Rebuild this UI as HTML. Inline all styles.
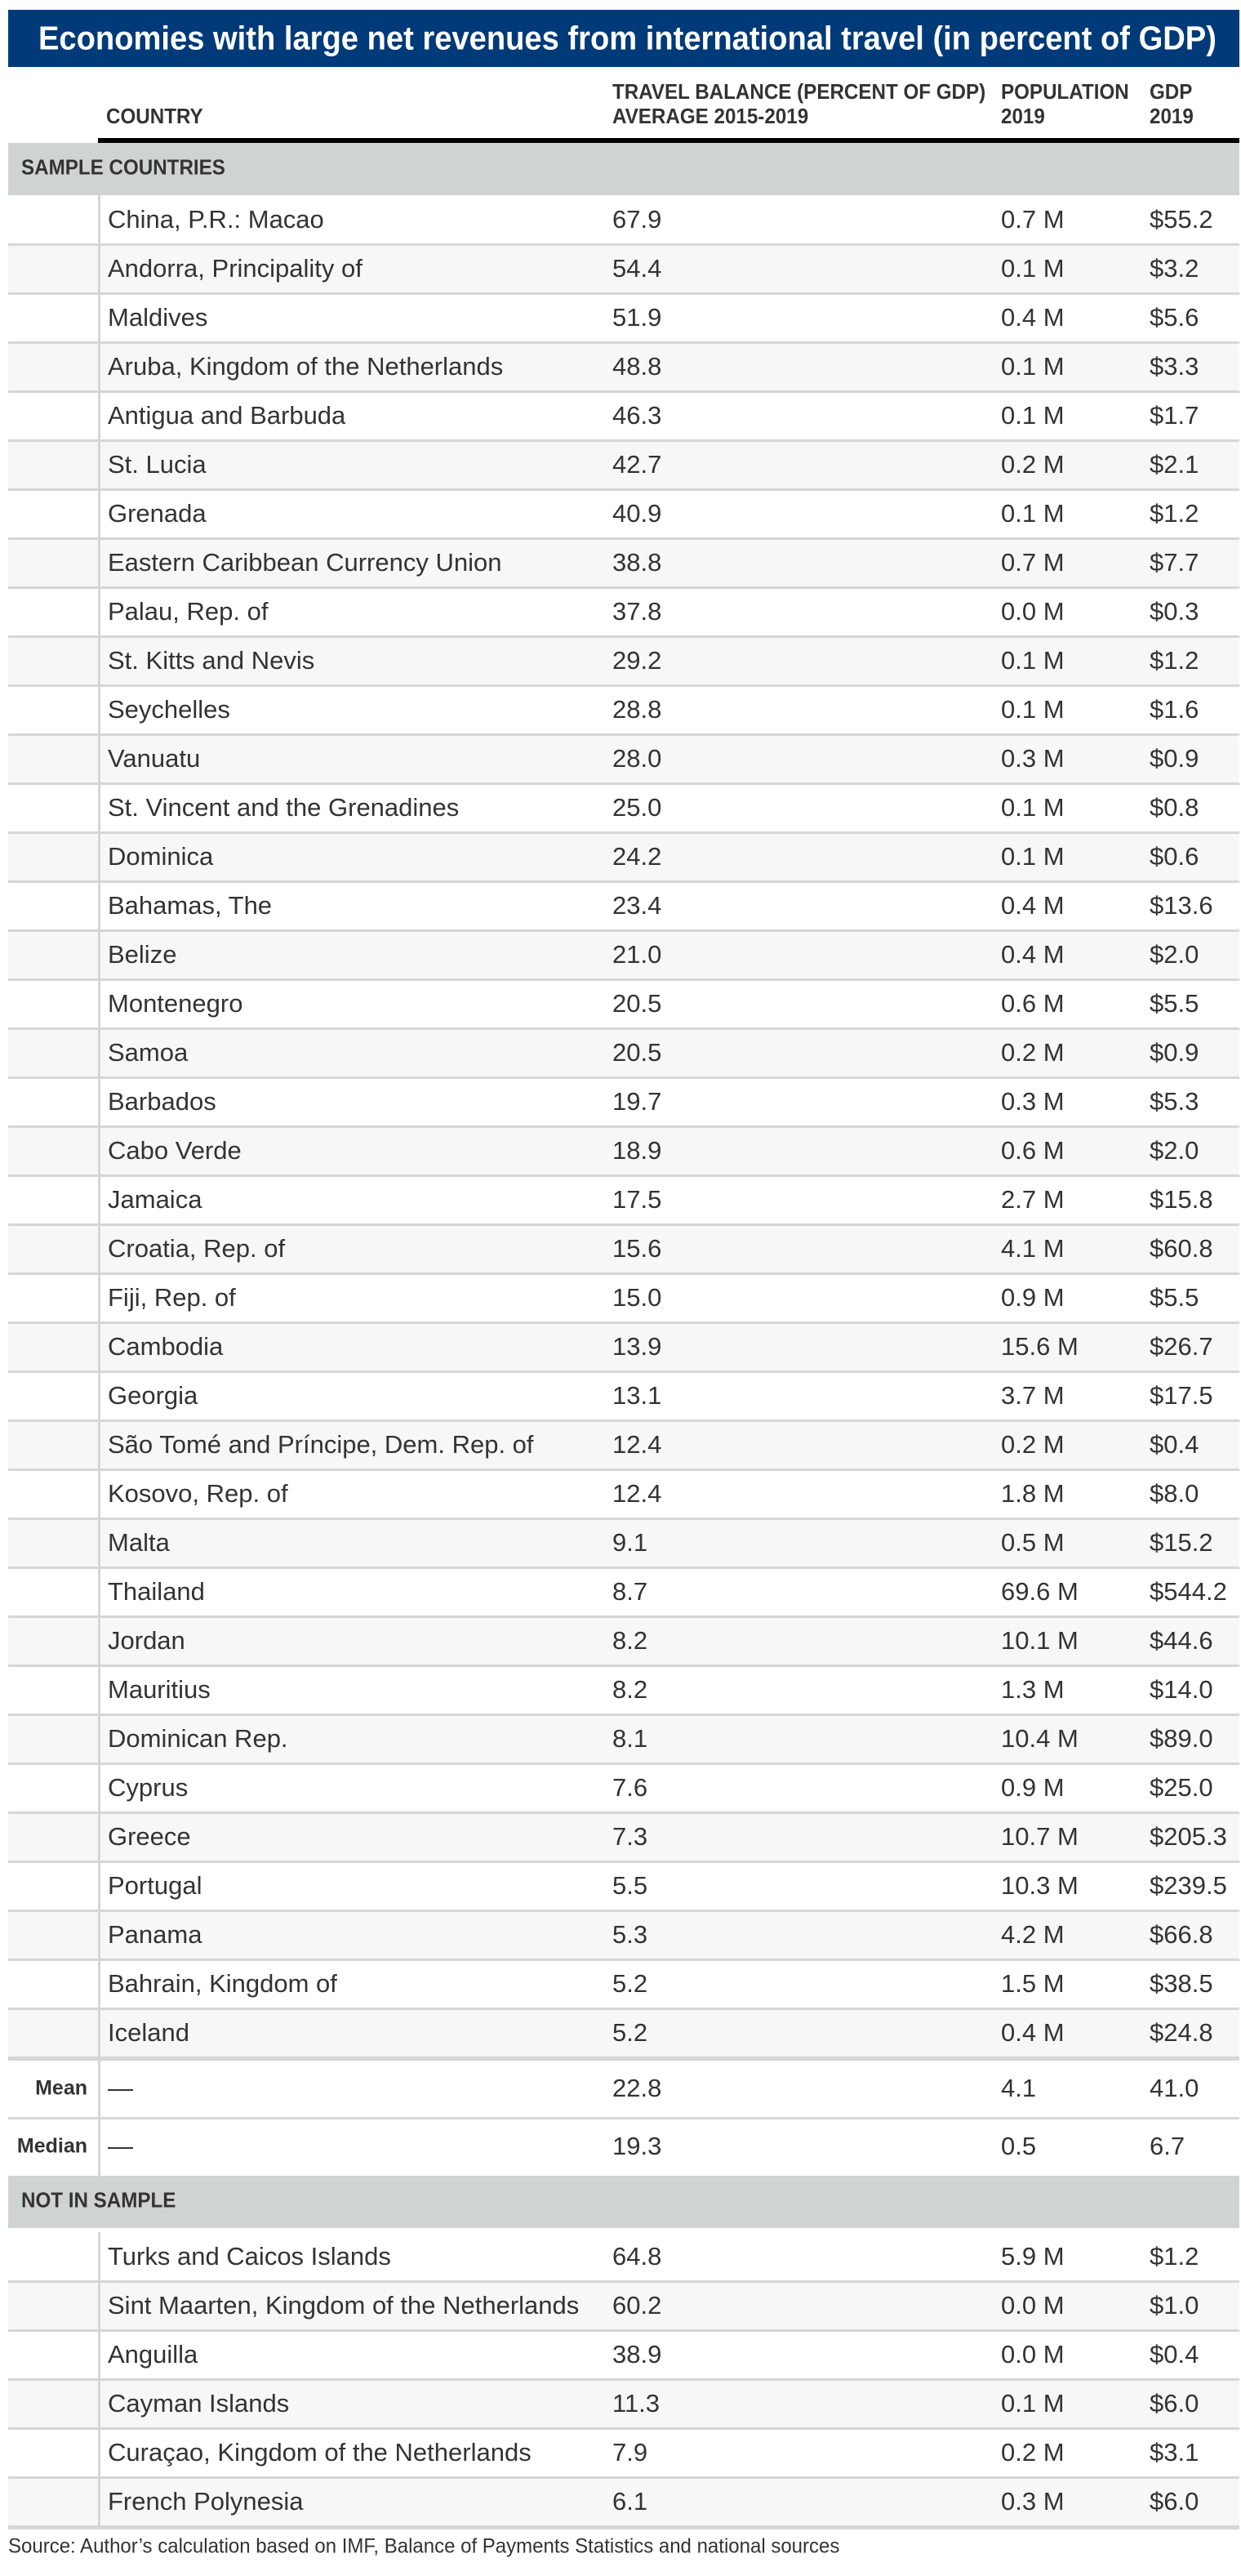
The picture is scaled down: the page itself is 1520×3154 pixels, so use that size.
<!DOCTYPE html>
<html><head><meta charset="utf-8">
<style>
body{margin:0;width:1520px;height:3154px;background:#fff;position:relative;overflow:hidden;font-family:"Liberation Sans",Arial,sans-serif;color:#333;}
.a{position:absolute;}
.t{position:absolute;white-space:nowrap;transform-origin:left center;}
.hd{font-weight:bold;font-size:26px;color:#333;transform:scaleX(0.93);}
.cell{font-size:31px;color:#333;transform:translateY(-50%);}
</style></head>
<body>
<div class="a" style="left:10px;top:12px;width:1508px;height:70px;background:#003a78;"></div>
<div class="t" style="left:47px;top:47px;transform:translateY(-50%) scaleX(0.93);color:#fff;font-weight:bold;font-size:41px;">Economies with large net revenues from international travel (in percent of GDP)</div>
<div class="t hd" style="left:130px;top:127px;">COUNTRY</div>
<div class="t hd" style="left:750px;top:97px;line-height:30px;">TRAVEL BALANCE (PERCENT OF GDP)<br>AVERAGE 2015-2019</div>
<div class="t hd" style="left:1226px;top:97px;line-height:30px;">POPULATION<br>2019</div>
<div class="t hd" style="left:1408px;top:97px;line-height:30px;">GDP<br>2019</div>
<div class="a" style="left:120px;top:169px;width:1398px;height:6px;background:#000;"></div>
<div id="root"></div>
<div class="t" style="left:10px;top:3118px;transform:translateY(-50%) scaleX(0.96);font-size:25px;color:#333;">Source: Author’s calculation based on IMF, Balance of Payments Statistics and national sources</div>
<script>
const sampleCountries=["China, P.R.: Macao","Andorra, Principality of","Maldives","Aruba, Kingdom of the Netherlands","Antigua and Barbuda","St. Lucia","Grenada","Eastern Caribbean Currency Union","Palau, Rep. of","St. Kitts and Nevis","Seychelles","Vanuatu","St. Vincent and the Grenadines","Dominica","Bahamas, The","Belize","Montenegro","Samoa","Barbados","Cabo Verde","Jamaica","Croatia, Rep. of","Fiji, Rep. of","Cambodia","Georgia","São Tomé and Príncipe, Dem. Rep. of","Kosovo, Rep. of","Malta","Thailand","Jordan","Mauritius","Dominican Rep.","Cyprus","Greece","Portugal","Panama","Bahrain, Kingdom of","Iceland"];
const sampleTravel=["67.9","54.4","51.9","48.8","46.3","42.7","40.9","38.8","37.8","29.2","28.8","28.0","25.0","24.2","23.4","21.0","20.5","20.5","19.7","18.9","17.5","15.6","15.0","13.9","13.1","12.4","12.4","9.1","8.7","8.2","8.2","8.1","7.6","7.3","5.5","5.3","5.2","5.2"];
const samplePop=["0.7 M","0.1 M","0.4 M","0.1 M","0.1 M","0.2 M","0.1 M","0.7 M","0.0 M","0.1 M","0.1 M","0.3 M","0.1 M","0.1 M","0.4 M","0.4 M","0.6 M","0.2 M","0.3 M","0.6 M","2.7 M","4.1 M","0.9 M","15.6 M","3.7 M","0.2 M","1.8 M","0.5 M","69.6 M","10.1 M","1.3 M","10.4 M","0.9 M","10.7 M","10.3 M","4.2 M","1.5 M","0.4 M"];
const sampleGdp=["$55.2","$3.2","$5.6","$3.3","$1.7","$2.1","$1.2","$7.7","$0.3","$1.2","$1.6","$0.9","$0.8","$0.6","$13.6","$2.0","$5.5","$0.9","$5.3","$2.0","$15.8","$60.8","$5.5","$26.7","$17.5","$0.4","$8.0","$15.2","$544.2","$44.6","$14.0","$89.0","$25.0","$205.3","$239.5","$66.8","$38.5","$24.8"];
const statLabels=["Mean","Median"];
const statTravel=["22.8","19.3"];
const statPop=["4.1","0.5"];
const statGdp=["41.0","6.7"];
const otherCountries=["Turks and Caicos Islands","Sint Maarten, Kingdom of the Netherlands","Anguilla","Cayman Islands","Curaçao, Kingdom of the Netherlands","French Polynesia"];
const otherTravel=["64.8","60.2","38.9","11.3","7.9","6.1"];
const otherPop=["5.9 M","0.0 M","0.0 M","0.1 M","0.2 M","0.3 M"];
const otherGdp=["$1.2","$1.0","$0.4","$6.0","$3.1","$6.0"];

const root=document.getElementById('root');
function box(l,t,w,h,bg,name){const d=document.createElement('div');d.className='a';d.style.cssText=`left:${l}px;top:${t}px;width:${w}px;height:${h}px;background:${bg};`;


root.appendChild(d);return d;}
function txt(l,cy,s,name,extra){const d=document.createElement('div');d.className='t cell';d.style.left=l+'px';d.style.top=cy+'px';if(extra)d.style.cssText+=extra;d.textContent=s;


root.appendChild(d);return d;}
const X=[132,750,1226,1408];const ROW=60;
function band(top,label,name){box(10,top,1508,64,'#d0d3d4',name);
txt(26,top+30,label,name+'-label','font-weight:bold;font-size:26px;transform:translateY(-50%) scaleX(0.93);');}
function rows(top,names,tr,pop,gdp,prefix){
  for(let i=0;i<names.length;i++){const y=top+i*ROW;
    box(10,y,1508,ROW,i%2?'#f7f7f7':'#ffffff',prefix+'-row-'+i);
    if(i>0)box(10,y-1,1508,3,'#d6d6d6',prefix+'-row-divider-'+i);
    txt(X[0],y+30,names[i],prefix+'-country-'+i);
    txt(X[1],y+30,tr[i],prefix+'-travel-'+i);
    txt(X[2],y+30,pop[i],prefix+'-population-'+i);
    txt(X[3],y+30,gdp[i],prefix+'-gdp-'+i);}
  const end=top+names.length*ROW;
  box(120,top,3,names.length*ROW,'#d6d6d6',prefix+'-left-rule');
  box(10,end-1,1508,5,'#d6d6d6',prefix+'-bottom-rule');
  return end;}
band(175,'SAMPLE COUNTRIES','sample-band');
let end=rows(239,sampleCountries,sampleTravel,samplePop,sampleGdp,'sample');
let y=end+3;
for(let i=0;i<statLabels.length;i++){const top=y+i*71;
  box(120,top,3,71,'#d6d6d6','stat-left-rule-'+i);
  if(i>0)box(10,top-1,1508,3,'#d6d6d6','stat-divider-'+i);
  txt(0,top+35,statLabels[i],'stat-label-'+i,'font-weight:bold;font-size:25px;width:107px;text-align:right;');
  txt(X[0],top+35,'—','stat-dash-'+i);
  txt(X[1],top+35,statTravel[i],'stat-travel-'+i);
  txt(X[2],top+35,statPop[i],'stat-population-'+i);
  txt(X[3],top+35,statGdp[i],'stat-gdp-'+i);}
band(2664,'NOT IN SAMPLE','not-in-sample-band');
rows(2733,otherCountries,otherTravel,otherPop,otherGdp,'other');
</script>
</body></html>
